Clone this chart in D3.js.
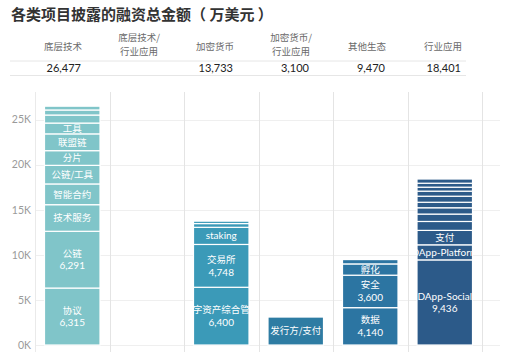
<!DOCTYPE html>
<html><head><meta charset="utf-8">
<script src="https://cdn.jsdelivr.net/npm/d3@7"></script>
<style>
body{margin:0;background:#fff;}
svg{display:block;font-family:"Noto Sans CJK SC","Noto Sans",sans-serif;}
</style></head>
<body>
<svg id="chart" width="510" height="361"></svg>
<script>
const title = "各类项目披露的融资总金额（ 万美元 ）";
const categories = ["底层技术","底层技术/行业应用","加密货币","加密货币/行业应用","其他生态","行业应用"];
const headerLines = [["底层技术"],["底层技术/","行业应用"],["加密货币"],["加密货币/","行业应用"],["其他生态"],["行业应用"]];
const totals = [26477, null, 13733, 3100, 9470, 18401];
const colors = ["#80c5c9","#4aa3bd","#3b9ab8","#2e7ca3","#2c75a2","#2c5a89"];
const yTicks = [0,5000,10000,15000,20000,25000];

// stacked segments, bottom to top
const techNames  = ["协议","公链","技术服务","智能合约","公链/工具","分片","联盟链","工具","","",""];
const techValues = [6315,6291,2950,2300,2060,1630,1860,1200,890,560,421];
const mixTechNames = [];
const mixTechValues = [];
const cryptoNames  = ["数字资产综合管理","交易所","staking","",""];
const cryptoValues = [6400,4748,1900,415,270];
const mixCryptoNames  = ["发行方/支付"];
const mixCryptoValues = [3100];
const otherNames  = ["数据","安全","孵化",""];
const otherValues = [4140,3600,1250,480];
const industryNames  = ["DApp-Social","DApp-Platform","支付","","","","","","","","",""];
const industryValues = [9436,1670,1600,990,820,700,610,670,560,440,440,465];

const segNames = [techNames, mixTechNames, cryptoNames, mixCryptoNames, otherNames, industryNames];
const segValues = [techValues, mixTechValues, cryptoValues, mixCryptoValues, otherValues, industryValues];

const svg = d3.select("#chart");
const fmt = d3.format(",");

svg.append("text").attr("x",11).attr("y",19.5)
  .attr("font-size",15).attr("font-weight","bold").attr("fill","#333")
  .text(title);

// header table
const hx = d3.scaleBand().domain(categories).range([25,481]);
svg.append("line").attr("x1",10).attr("x2",466).attr("y1",61).attr("y2",61).attr("stroke","#e6e6e6");
svg.append("line").attr("x1",10).attr("x2",466).attr("y1",75.5).attr("y2",75.5).attr("stroke","#e6e6e6");
categories.forEach((c,i)=>{
  const lines = headerLines[i];
  const cx = hx(c)+hx.bandwidth()/2;
  const ys = lines.length===1 ? [46.5] : [37.5,51.5];
  lines.forEach((l,j)=>{
    svg.append("text").attr("x",cx).attr("y",ys[j]).attr("dy","0.35em")
      .attr("text-anchor","middle").attr("font-size",9.5).attr("fill","#6a6a6a").text(l);
  });
  if(totals[i]!=null){
    svg.append("text").attr("x",hx(c)+hx.bandwidth()-20).attr("y",68.5).attr("dy","0.35em")
      .attr("text-anchor","end").attr("font-size",11).attr("fill","#222")
      .attr("font-family","Lato, 'Noto Sans', sans-serif").text(fmt(totals[i]));
  }
});

// chart
const x = d3.scaleBand().domain(categories).range([35,482]).paddingInner(0.255).paddingOuter(0.1275);
const y = d3.scaleLinear().domain([0,25000]).range([345,119.5]);

const g = svg.append("g");
// horizontal grid
g.selectAll("line.h").data(yTicks).join("line")
  .attr("x1",35).attr("x2",500).attr("y1",d=>Math.round(y(d))+0.5).attr("y2",d=>Math.round(y(d))+0.5)
  .attr("stroke","#efefef");
// vertical separators
const step = x.step();
d3.range(0,7).forEach(i=>{
  const xx = Math.round(35+i*step)+0.5;
  g.append("line").attr("x1",xx).attr("x2",xx).attr("y1",92).attr("y2",352)
    .attr("stroke", i===0 ? "#eaeaea" : "#e4e4e4");
});
// y axis labels
const yAxis = d3.axisLeft(y).tickValues(yTicks).tickFormat(d=>(d/1000)+"K").tickSize(0).tickPadding(0);
const ya = svg.append("g").attr("transform","translate(31,0)").call(yAxis);
ya.select(".domain").remove();
ya.selectAll("text").attr("font-size",10.5).attr("fill","#9a9a9a").attr("font-family","Lato, 'Noto Sans', sans-serif");

const defs = svg.append("defs");
categories.forEach((c,i)=>{
  const names = segNames[i], vals = segValues[i];
  if(!vals.length) return;
  defs.append("clipPath").attr("id","clip"+i).append("rect")
    .attr("x",x(c)).attr("y",0).attr("width",x.bandwidth()).attr("height",361);
  let cum = 0;
  const segs = vals.map((v,k)=>{const s={name:names[k],value:v,y0:cum,y1:cum+v};cum+=v;return s;});
  const cg = svg.append("g");
  cg.selectAll("rect").data(segs).join("rect")
    .attr("x",x(c)).attr("width",x.bandwidth())
    .attr("y",d=>y(d.y1)).attr("height",d=>y(d.y0)-y(d.y1))
    .attr("fill",colors[i]).attr("stroke","#fff").attr("stroke-width",1.2);
  const lg = svg.append("g").attr("clip-path","url(#clip"+i+")");
  segs.forEach(s=>{
    if(!s.name) return;
    const cx = x(c)+x.bandwidth()/2;
    const cy = (y(s.y0)+y(s.y1))/2;
    const showVal = s.value>=3500;
    const gap = 12.5;
    const lines = showVal ? [s.name, fmt(s.value)] : [s.name];
    lines.forEach((l,j)=>{
      const yy = showVal ? cy + (j===0 ? -gap/2 : gap/2) : cy;
      const latin = /^[\x00-\x7f]+$/.test(l);
      lg.append("text").attr("x",cx).attr("y",yy).attr("dy","0.35em")
        .attr("text-anchor","middle").attr("font-size",latin ? 10 : 9.5).attr("fill","#fff")
        .attr("font-family", latin ? "Lato,'Noto Sans',sans-serif" : "'Noto Sans CJK SC',sans-serif")
        .text(l);
    });
  });
});
</script>
</body></html>
